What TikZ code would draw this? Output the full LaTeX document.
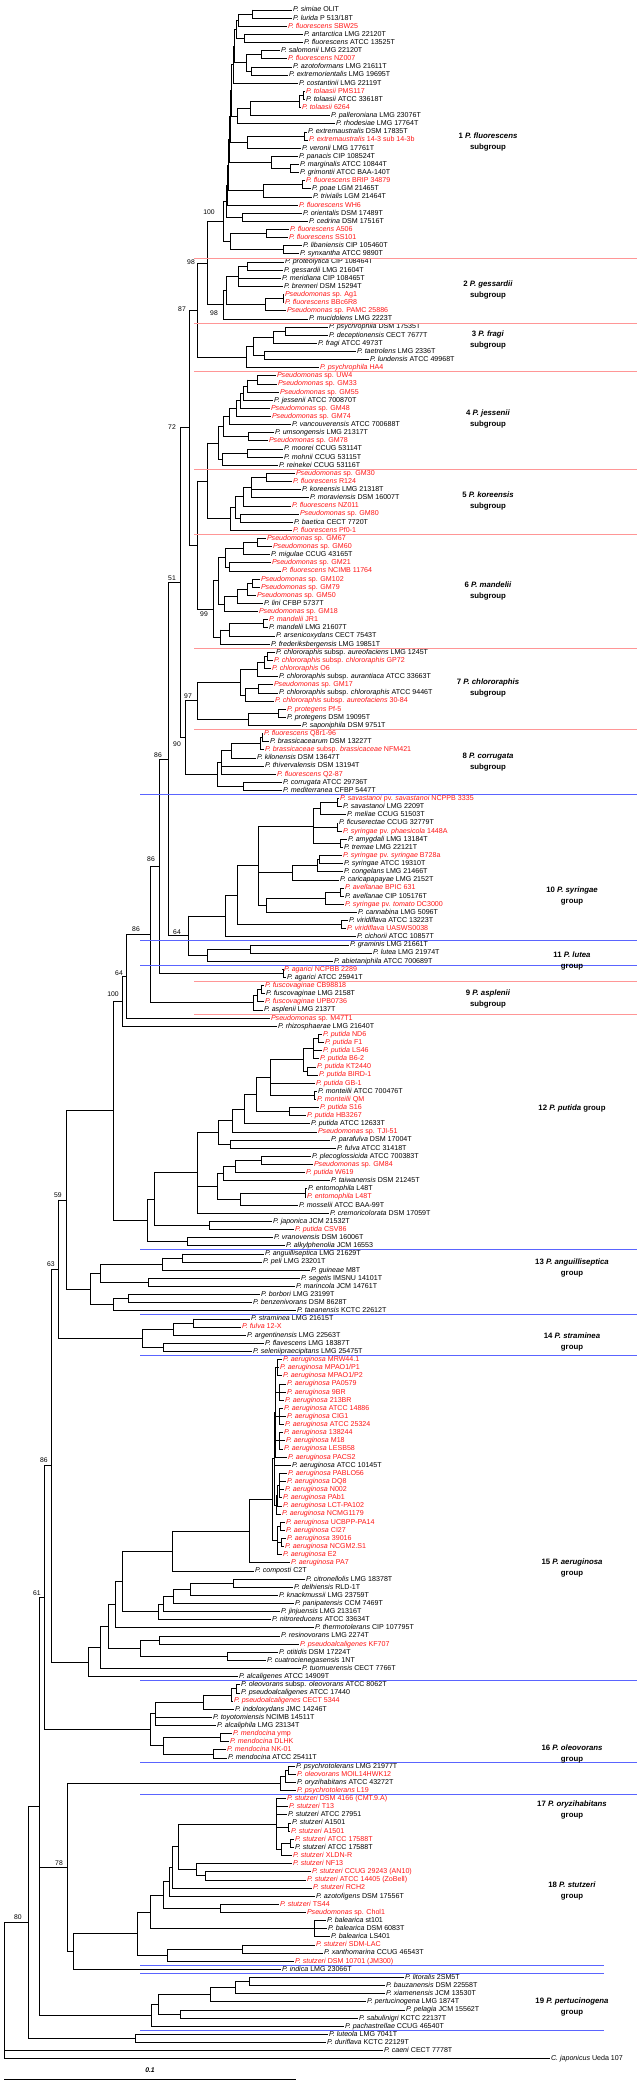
\documentclass[tikz,border=0pt]{standalone}
\usepackage{fontspec}
\setmainfont{Liberation Sans}
\usetikzlibrary{calc}
\definecolor{leafred}{RGB}{255,20,20}
\definecolor{sepred}{RGB}{255,150,150}
\definecolor{sepblue}{RGB}{90,100,255}
\newcommand\lfont{\fontsize{7.1}{8}\selectfont}
\newcommand\bsfont{\fontsize{6.8}{8}\selectfont}
\newcommand\gfont{\fontsize{7.8}{10.5}\selectfont\bfseries}
\newcommand\spn[1]{\textit{P. #1}}
\newcommand\psp{\textit{Pseudomonas} sp.}
\tikzset{
  br/.style={line width=0.8pt, line cap=rect},
  lf/.style={anchor=west, inner sep=0pt, xshift=1.3pt, font=\lfont, text height=5.2pt, text depth=1.4pt},
  bs/.style={font=\bsfont, inner sep=0pt},
  grp/.style={font=\gfont, align=center, inner sep=0pt},
  sepr/.style={draw=sepred, line width=0.7pt},
  sepb/.style={draw=sepblue, line width=0.9pt}
}
\newcommand\lk[3]{\coordinate (l#1) at ({#2-1.5},{10+(#1-1)*8.13}); \node[lf] at (l#1) {#3};}
\newcommand\lr[3]{\coordinate (l#1) at ({#2-1.5},{10+(#1-1)*8.13}); \node[lf,text=leafred] at (l#1) {#3};}
\newcommand\nd[3]{%
  \coordinate (tx) at (#2,0);
  \foreach \c [count=\i] in {#3}{\ifnum\i=1 \xdef\firstc{\c}\fi\xdef\lastc{\c}}%
  \coordinate (#1) at ($(tx|-\firstc)!.5!(tx|-\lastc)$);
  \draw[br] (tx|-\firstc) -- (tx|-\lastc);
  \foreach \c in {#3}{\draw[br] (tx|-\c) -- (\c);}
}
\newcommand\sepR[1]{\coordinate (sa#1) at (194,{10+(#1-0.5)*8.13}); \coordinate (sb#1) at (637,{10+(#1-0.5)*8.13}); \draw[sepr] (sa#1) -- (sb#1);}
\newcommand\sepB[2]{\coordinate (sa#1) at (140,{10+(#1-0.5)*8.13}); \coordinate (sb#1) at (#2,{10+(#1-0.5)*8.13}); \draw[sepb] (sa#1) -- (sb#1);}
\begin{document}
\begin{tikzpicture}[x=1pt,y=-1pt]
\path[use as bounding box] (0,0) rectangle (637,2084);
% ---------------- leaves
\lk{1}{293}{\spn{simiae} OLIT}
\lk{2}{293}{\spn{lurida} P 513/18T}
\lr{3}{288}{\spn{fluorescens} SBW25}
\lk{4}{304}{\spn{antarctica} LMG 22120T}
\lk{5}{304}{\spn{fluorescens} ATCC 13525T}
\lk{6}{281}{\spn{salomonii} LMG 22120T}
\lr{7}{288}{\spn{fluorescens} NZ007}
\lk{8}{293}{\spn{azotoformans} LMG 21611T}
\lk{9}{289}{\spn{extremorientalis} LMG 19695T}
\lk{10}{299}{\spn{costantinii} LMG 22119T}
\lr{11}{306}{\spn{tolaasii} PMS117}
\lk{12}{306}{\spn{tolaasii} ATCC 33618T}
\lr{13}{302}{\spn{tolaasii} 6264}
\lk{14}{331}{\spn{palleroniana} LMG 23076T}
\lk{15}{336}{\spn{rhodesiae} LMG 17764T}
\lk{16}{308}{\spn{extremaustralis} DSM 17835T}
\lr{17}{309}{\spn{extremaustralis} 14-3 sub 14-3b}
\lk{18}{302}{\spn{veronii} LMG 17761T}
\lk{19}{299}{\spn{panacis} CIP 108524T}
\lk{20}{300}{\spn{marginalis} ATCC 10844T}
\lk{21}{300}{\spn{grimontii} ATCC BAA-140T}
\lr{22}{306}{\spn{fluorescens} BRIP 34879}
\lk{23}{312}{\spn{poae} LGM 21465T}
\lk{24}{313}{\spn{trivialis} LGM 21464T}
\lr{25}{299}{\spn{fluorescens} WH6}
\lk{26}{303}{\spn{orientalis} DSM 17489T}
\lk{27}{309}{\spn{cedrina} DSM 17516T}
\lr{28}{290}{\spn{fluorescens} A506}
\lr{29}{289}{\spn{fluorescens} SS101}
\lk{30}{303}{\spn{libaniensis} CIP 105460T}
\lk{31}{300}{\spn{synxantha} ATCC 9890T}
\lk{32}{285}{\spn{proteolytica} CIP 108464T}
\lk{33}{284}{\spn{gessardii} LMG 21604T}
\lk{34}{282}{\spn{meridiana} CIP 108465T}
\lk{35}{284}{\spn{brenneri} DSM 15294T}
\lr{36}{285}{\psp{} Ag1}
\lr{37}{285}{\spn{fluorescens} BBc6R8}
\lr{38}{287}{\psp{} PAMC 25886}
\lk{39}{309}{\spn{mucidolens} LMG 2223T}
\lk{40}{329}{\spn{psychrophila} DSM 17535T}
\lk{41}{329}{\spn{deceptionensis} CECT 7677T}
\lk{42}{318}{\spn{fragi} ATCC 4973T}
\lk{43}{357}{\spn{taetrolens} LMG 2336T}
\lk{44}{370}{\spn{lundensis} ATCC 49968T}
\lr{45}{320}{\spn{psychrophila} HA4}
\lr{46}{277}{\psp{} UW4}
\lr{47}{278}{\psp{} GM33}
\lr{48}{280}{\psp{} GM55}
\lk{49}{274}{\spn{jessenii} ATCC 700870T}
\lr{50}{271}{\psp{} GM48}
\lr{51}{272}{\psp{} GM74}
\lk{52}{292}{\spn{vancouverensis} ATCC 700688T}
\lk{53}{275}{\spn{umsongensis} LMG 21317T}
\lr{54}{269}{\psp{} GM78}
\lk{55}{284}{\spn{moorei} CCUG 53114T}
\lk{56}{284}{\spn{mohnii} CCUG 53115T}
\lk{57}{279}{\spn{reinekei} CCUG 53116T}
\lr{58}{296}{\psp{} GM30}
\lr{59}{293}{\spn{fluorescens} R124}
\lk{60}{302}{\spn{koreensis} LMG 21318T}
\lk{61}{310}{\spn{moraviensis} DSM 16007T}
\lr{62}{292}{\spn{fluorescens} NZ011}
\lr{63}{300}{\psp{} GM80}
\lk{64}{294}{\spn{baetica} CECT 7720T}
\lr{65}{293}{\spn{fluorescens} Pf0-1}
\lr{66}{267}{\psp{} GM67}
\lr{67}{273}{\psp{} GM60}
\lk{68}{271}{\spn{migulae} CCUG 43165T}
\lr{69}{272}{\psp{} GM21}
\lr{70}{282}{\spn{fluorescens} NCIMB 11764}
\lr{71}{261}{\psp{} GM102}
\lr{72}{261}{\psp{} GM79}
\lr{73}{257}{\psp{} GM50}
\lk{74}{264}{\spn{lini} CFBP 5737T}
\lr{75}{259}{\psp{} GM18}
\lr{76}{269}{\spn{mandelii} JR1}
\lk{77}{269}{\spn{mandelii} LMG 21607T}
\lk{78}{276}{\spn{arsenicoxydans} CECT 7543T}
\lk{79}{271}{\spn{frederiksbergensis} LMG 19851T}
\lk{80}{276}{\spn{chlororaphis} subsp. \textit{aureofaciens} LMG 1245T}
\lr{81}{274}{\spn{chlororaphis} subsp. \textit{chlororaphis} GP72}
\lr{82}{272}{\spn{chlororaphis} O6}
\lk{83}{279}{\spn{chlororaphis} subsp. \textit{aurantiaca} ATCC 33663T}
\lr{84}{274}{\psp{} GM17}
\lk{85}{279}{\spn{chlororaphis} subsp. \textit{chlororaphis} ATCC 9446T}
\lr{86}{275}{\spn{chlororaphis} subsp. \textit{aureofaciens} 30-84}
\lr{87}{287}{\spn{protegens} Pf-5}
\lk{88}{287}{\spn{protegens} DSM 19095T}
\lk{89}{302}{\spn{saponiphila} DSM 9751T}
\lr{90}{264}{\spn{fluorescens} Q8r1-96}
\lk{91}{270}{\spn{brassicacearum} DSM 13227T}
\lr{92}{265}{\spn{brassicaceae} subsp. \textit{brassicaceae} NFM421}
\lk{93}{257}{\spn{kilonensis} DSM 13647T}
\lk{94}{265}{\spn{thivervalensis} DSM 13194T}
\lr{95}{277}{\spn{fluorescens} Q2-87}
\lk{96}{283}{\spn{corrugata} ATCC 29736T}
\lk{97}{283}{\spn{mediterranea} CFBP 5447T}
\lr{98}{340}{\spn{savastanoi} pv. \textit{savastanoi} NCPPB 3335}
\lk{99}{343}{\spn{savastanoi} LMG 2209T}
\lk{100}{347}{\spn{meliae} CCUG 51503T}
\lk{101}{339}{\spn{ficuserectae} CCUG 32779T}
\lr{102}{343}{\spn{syringae} pv. \textit{phaesicola} 1448A}
\lk{103}{348}{\spn{amygdali} LMG 13184T}
\lk{104}{344}{\spn{tremae} LMG 22121T}
\lr{105}{343}{\spn{syringae} pv. \textit{syringae} B728a}
\lk{106}{344}{\spn{syringae} ATCC 19310T}
\lk{107}{344}{\spn{congelans} LMG 21466T}
\lk{108}{340}{\spn{caricapapayae} LMG 2152T}
\lr{109}{345}{\spn{avellanae} BPIC 631}
\lk{110}{345}{\spn{avellanae} CIP 105176T}
\lr{111}{345}{\spn{syringae} pv. \textit{tomato} DC3000}
\lk{112}{358}{\spn{cannabina} LMG 5096T}
\lk{113}{349}{\spn{viridiflava} ATCC 13223T}
\lr{114}{347}{\spn{viridiflava} UASWS0038}
\lk{115}{357}{\spn{cichorii} ATCC 10857T}
\lk{116}{350}{\spn{graminis} LMG 21661T}
\lk{117}{373}{\spn{lutea} LMG 21974T}
\lk{118}{334}{\spn{abietaniphila} ATCC 700689T}
\lr{119}{284}{\spn{agarici} NCPBB 2289}
\lk{120}{287}{\spn{agarici} ATCC 25941T}
\lr{121}{265}{\spn{fuscovaginae} CB98818}
\lk{122}{266}{\spn{fuscovaginae} LMG 2158T}
\lr{123}{265}{\spn{fuscovaginae} UPB0736}
\lk{124}{264}{\spn{asplenii} LMG 2137T}
\lr{125}{271}{\psp{} M47T1}
\lk{126}{278}{\spn{rhizosphaerae} LMG 21640T}
\lr{127}{323}{\spn{putida} ND6}
\lr{128}{325}{\spn{putida} F1}
\lr{129}{323}{\spn{putida} LS46}
\lr{130}{320}{\spn{putida} B6-2}
\lr{131}{317}{\spn{putida} KT2440}
\lr{132}{319}{\spn{putida} BIRD-1}
\lr{133}{316}{\spn{putida} GB-1}
\lk{134}{318}{\spn{monteilii} ATCC 700476T}
\lr{135}{317}{\spn{monteilii} QM}
\lr{136}{320}{\spn{putida} S16}
\lr{137}{307}{\spn{putida} HB3267}
\lk{138}{311}{\spn{putida} ATCC 12633T}
\lr{139}{318}{\psp{} TJI-51}
\lk{140}{331}{\spn{parafulva} DSM 17004T}
\lk{141}{337}{\spn{fulva} ATCC 31418T}
\lk{142}{312}{\spn{plecoglossicida} ATCC 700383T}
\lr{143}{314}{\psp{} GM84}
\lr{144}{306}{\spn{putida} W619}
\lk{145}{331}{\spn{taiwanensis} DSM 21245T}
\lk{146}{308}{\spn{entomophila} L48T}
\lr{147}{307}{\spn{entomophila} L48T}
\lk{148}{299}{\spn{mosselii} ATCC BAA-99T}
\lk{149}{330}{\spn{cremoricolorata} DSM 17059T}
\lk{150}{273}{\spn{japonica} JCM 21532T}
\lr{151}{295}{\spn{putida} CSV86}
\lk{152}{274}{\spn{vranovensis} DSM 16006T}
\lk{153}{286}{\spn{alkylphenolia} JCM 16553}
\lk{154}{265}{\spn{anguilliseptica} LMG 21629T}
\lk{155}{263}{\spn{peli} LMG 23201T}
\lk{156}{311}{\spn{guineae} M8T}
\lk{157}{301}{\spn{segetis} IMSNU 14101T}
\lk{158}{296}{\spn{marincola} JCM 14761T}
\lk{159}{261}{\spn{borbori} LMG 23199T}
\lk{160}{253}{\spn{benzenivorans} DSM 8628T}
\lk{161}{297}{\spn{taeanensis} KCTC 22612T}
\lk{162}{251}{\spn{straminea} LMG 21615T}
\lr{163}{242}{\spn{fulva} 12-X}
\lk{164}{247}{\spn{argentinensis} LMG 22563T}
\lk{165}{265}{\spn{flavescens} LMG 18387T}
\lk{166}{253}{\spn{seleniipraecipitans} LMG 25475T}
\lr{167}{283}{\spn{aeruginosa} MRW44.1}
\lr{168}{280}{\spn{aeruginosa} MPAO1/P1}
\lr{169}{283}{\spn{aeruginosa} MPAO1/P2}
\lr{170}{287}{\spn{aeruginosa} PA0579}
\lr{171}{287}{\spn{aeruginosa} 9BR}
\lr{172}{285}{\spn{aeruginosa} 213BR}
\lr{173}{284}{\spn{aeruginosa} ATCC 14886}
\lr{174}{287}{\spn{aeruginosa} CIG1}
\lr{175}{285}{\spn{aeruginosa} ATCC 25324}
\lr{176}{284}{\spn{aeruginosa} 138244}
\lr{177}{286}{\spn{aeruginosa} M18}
\lr{178}{284}{\spn{aeruginosa} LESB58}
\lr{179}{288}{\spn{aeruginosa} PACS2}
\lk{180}{292}{\spn{aeruginosa} ATCC 10145T}
\lr{181}{288}{\spn{aeruginosa} PABLO56}
\lr{182}{287}{\spn{aeruginosa} DQ8}
\lr{183}{285}{\spn{aeruginosa} N002}
\lr{184}{283}{\spn{aeruginosa} PAb1}
\lr{185}{283}{\spn{aeruginosa} LCT-PA102}
\lr{186}{282}{\spn{aeruginosa} NCMG1179}
\lr{187}{286}{\spn{aeruginosa} UCBPP-PA14}
\lr{188}{286}{\spn{aeruginosa} CI27}
\lr{189}{287}{\spn{aeruginosa} 39016}
\lr{190}{285}{\spn{aeruginosa} NCGM2.S1}
\lr{191}{283}{\spn{aeruginosa} E2}
\lr{192}{291}{\spn{aeruginosa} PA7}
\lk{193}{255}{\spn{composti} C2T}
\lk{194}{306}{\spn{citronellolis} LMG 18378T}
\lk{195}{294}{\spn{delhiensis} RLD-1T}
\lk{196}{279}{\spn{knackmussii} LMG 23759T}
\lk{197}{295}{\spn{panipatensis} CCM 7469T}
\lk{198}{281}{\spn{jinjuensis} LMG 21316T}
\lk{199}{272}{\spn{nitroreducens} ATCC 33634T}
\lk{200}{315}{\spn{thermotolerans} CIP 107795T}
\lk{201}{281}{\spn{resinovorans} LMG 2274T}
\lr{202}{300}{\spn{pseudoalcaligenes} KF707}
\lk{203}{279}{\spn{otitidis} DSM 17224T}
\lk{204}{267}{\spn{cuatrocienegasensis} 1NT}
\lk{205}{302}{\spn{tuomuerensis} CECT 7766T}
\lk{206}{239}{\spn{alcaligenes} ATCC 14909T}
\lk{207}{241}{\spn{oleovorans} subsp. \textit{oleovorans} ATCC 8062T}
\lk{208}{241}{\spn{pseudoalcaligenes} ATCC 17440}
\lr{209}{234}{\spn{pseudoalcaligenes} CECT 5344}
\lk{210}{235}{\spn{indoloxydans} JMC 14246T}
\lk{211}{213}{\spn{toyotomiensis} NCIMB 14511T}
\lk{212}{217}{\spn{alcaliphila} LMG 23134T}
\lr{213}{233}{\spn{mendocina} ymp}
\lr{214}{230}{\spn{mendocina} DLHK}
\lr{215}{227}{\spn{mendocina} NK-01}
\lk{216}{228}{\spn{mendocina} ATCC 25411T}
\lk{217}{296}{\spn{psychrotolerans} LMG 21977T}
\lr{218}{297}{\spn{oleovorans} MOIL14HWK12}
\lk{219}{297}{\spn{oryzihabitans} ATCC 43272T}
\lr{220}{297}{\spn{psychrotolerans} L19}
\lr{221}{287}{\spn{stutzeri} DSM 4166 (CMT.9.A)}
\lr{222}{289}{\spn{stutzeri} T13}
\lk{223}{288}{\spn{stutzeri} ATCC 27951}
\lk{224}{292}{\spn{stutzeri} A1501}
\lr{225}{291}{\spn{stutzeri} A1501}
\lr{226}{295}{\spn{stutzeri} ATCC 17588T}
\lk{227}{295}{\spn{stutzeri} ATCC 17588T}
\lr{228}{293}{\spn{stutzeri} XLDN-R}
\lr{229}{293}{\spn{stutzeri} NF13}
\lr{230}{312}{\spn{stutzeri} CCUG 29243 (AN10)}
\lr{231}{307}{\spn{stutzeri} ATCC 14405 (ZoBell)}
\lr{232}{313}{\spn{stutzeri} RCH2}
\lk{233}{316}{\spn{azotofigens} DSM 17556T}
\lr{234}{280}{\spn{stutzeri} TS44}
\lr{235}{307}{\psp{} Chol1}
\lk{236}{327}{\spn{balearica} st101}
\lk{237}{328}{\spn{balearica} DSM 6083T}
\lk{238}{331}{\spn{balearica} LS401}
\lr{239}{316}{\spn{stutzeri} SDM-LAC}
\lk{240}{324}{\spn{xanthomarina} CCUG 46543T}
\lr{241}{295}{\spn{stutzeri} DSM 10701 (JM300)}
\lk{242}{282}{\spn{indica} LMG 23066T}
\lk{243}{405}{\spn{litoralis} 2SM5T}
\lk{244}{386}{\spn{bauzanensis} DSM 22558T}
\lk{245}{386}{\spn{xiamenensis} JCM 13530T}
\lk{246}{367}{\spn{pertucinogena} LMG 1874T}
\lk{247}{406}{\spn{pelagia} JCM 15562T}
\lk{248}{359}{\spn{sabulinigri} KCTC 22137T}
\lk{249}{345}{\spn{pachastrellae} CCUG 46540T}
\lk{250}{329}{\spn{luteola} LMG 7041T}
\lk{251}{327}{\spn{duriflava} KCTC 22129T}
\lk{252}{384}{\spn{caeni} CECT 7778T}
\lk{253}{551}{\textit{C. japonicus} Ueda 107}
% ---------------- group 1
\nd{a1}{252}{l1,l2}
\nd{a2}{238}{a1,l3}
\nd{a3}{244}{l4,l5}
\nd{a4}{261}{l6,l7}
\nd{a5}{251}{l8,l9}
\nd{a6}{246}{a4,a5}
\nd{a7}{236}{a2,a3}
\nd{a8}{234}{a7,a6}
\nd{a9}{233}{a8,l10}
\nd{b1}{303}{l11,l12}
\nd{b2}{299}{b1,l13}
\nd{b3}{250}{b2,l14}
\nd{b4}{237}{b3,l15}
\nd{b5}{304}{l16,l17}
\nd{b6}{247}{b5,l18}
\nd{b7}{290}{l20,l21}
\nd{b8}{271}{l19,b7}
\nd{b9}{302}{l22,l23}
\nd{b10}{263}{b9,l24}
\nd{b11}{242}{l26,l27}
\nd{c1}{231}{a9,b4}
\nd{c2}{230}{c1,b6}
\nd{c3}{229}{c2,b8}
\nd{c4}{228}{c3,b10}
\nd{c5}{227}{c4,l25}
\nd{c6}{226}{c5,b11}
\nd{b12}{266}{l28,l29}
\nd{b13}{283}{l30,l31}
\nd{b14}{230}{b12,b13}
\nd{G1}{223}{c6,b14}
% group 2
\nd{d1}{247}{l32,l33}
\nd{d2}{238}{d1,l34,l35}
\nd{d3}{283}{l36,l37}
\nd{d4}{265}{d3,l38}
\nd{d5}{226}{d2,d4}
\nd{G2}{223}{d5,l39}
\nd{G12}{207}{G1,G2}
% group 3
\nd{e1}{285}{l40,l41}
\nd{e2}{273}{e1,l42}
\nd{e3}{264}{l43,l44}
\nd{e4}{253}{e2,e3}
\nd{G3}{246}{e4,l45}
\nd{G123}{197}{G12,G3}
% group 4
\nd{f1}{257}{l46,l47}
\nd{f2}{247}{f1,l48}
\nd{f3}{243}{f2,l49}
\nd{f4}{240}{f3,l50}
\nd{f5}{236}{f4,l51}
\nd{f6}{229}{f5,l52}
\nd{f7}{248}{l53,l54}
\nd{f8}{223}{f6,f7}
\nd{f9}{247}{l55,l56}
\nd{f10}{222}{f9,l57}
\nd{G4}{218}{f8,f10}
% group 5
\nd{g1}{266}{l58,l59}
\nd{g2}{251}{g1,l60,l61}
\nd{g3}{243}{g2,l62}
\nd{g4}{240}{l63,l64}
\nd{g5}{235}{g3,g4}
\nd{G5}{230}{g5,l65}
\nd{G45}{207}{G4,G5}
% group 6
\nd{h1}{257}{l66,l67}
\nd{h2}{243}{h1,l68}
\nd{h3}{229}{l69,l70}
\nd{h4}{225}{h2,h3}
\nd{h5}{252}{l71,l72}
\nd{h6}{247}{h5,l73}
\nd{h7}{237}{h6,l74}
\nd{h8}{224}{h7,l75}
\nd{h9}{218}{h4,h8}
\nd{h10}{263}{l76,l77}
\nd{h11}{229}{h10,l78}
\nd{h12}{220}{h11,l79}
\nd{G6}{213}{h9,h12}
\nd{G456}{197}{G45,G6}
\nd{NA}{189}{G123,G456}
% group 7
\nd{i1}{267}{l80,l81}
\nd{i2}{264}{i1,l82}
\nd{i3}{257}{i2,l83}
\nd{i4}{258}{l84,l85}
\nd{i5}{245}{i4,l86}
\nd{i6}{240}{i3,i5}
\nd{i7}{278}{l87,l88}
\nd{i8}{248}{i7,l89}
\nd{G7}{197}{i6,i8}
% group 8
\nd{j1}{262}{l90,l91}
\nd{j2}{260}{j1,l92}
\nd{j3}{231}{j2,l93}
\nd{j4}{221}{j3,l94,l95}
\nd{j5}{243}{l96,l97}
\nd{G8}{217}{j4,j5}
\nd{G78}{185}{G7,G8}
\nd{NB}{180}{NA,G78}
% group 10
\nd{k1}{337}{l98,l99}
\nd{k2}{320}{k1,l100}
\nd{k3}{337}{l101,l102}
\nd{k4}{340}{l103,l104}
\nd{k5}{313}{k2,k3,k4}
\nd{k6}{319}{l105,l106}
\nd{k7}{317}{k6,l107}
\nd{k8}{292}{k7,l108}
\nd{k9}{340}{l109,l110}
\nd{k10}{325}{k9,l111}
\nd{k11}{266}{k10,l112}
\nd{k12}{258}{k5,k8,k11}
\nd{k13}{341}{l113,l114}
\nd{k14}{237}{k12,k13}
\nd{G10}{225}{k14,l115}
% group 11
\nd{m1}{250}{l116,l117}
\nd{G11}{207}{m1,l118}
\nd{XX}{188}{G10,G11}
\nd{NC}{168}{NB,XX}
\nd{agar}{283}{l119,l120}
\nd{ND}{159}{NC,agar}
% group 9
\nd{n1}{261}{l121,l122}
\nd{n2}{257}{n1,l123}
\nd{G9}{253}{n2,l124}
\nd{NE}{150}{ND,G9}
\nd{NF}{126}{NE,l125}
\nd{NG}{122}{NF,l126}
% group 12
\nd{p1}{318}{l127,l128}
\nd{p2}{313}{p1,l129,l130}
\nd{p3}{307}{l131,l132}
\nd{p4}{303}{p2,p3}
\nd{p5}{314}{l134,l135}
\nd{p6}{270}{p4,l133,p5}
\nd{p7}{289}{l136,l137}
\nd{p8}{256}{p6,p7}
\nd{p9}{244}{p8,l138}
\nd{p10}{232}{p9,l139}
\nd{p11}{230}{l140,l141}
\nd{p12}{218}{p10,p11}
\nd{p13}{261}{l142,l143}
\nd{p14}{235}{p13,l144}
\nd{p15}{223}{p14,l145}
\nd{p16}{305}{l146,l147}
\nd{p17}{240}{p16,l148}
\nd{p18}{217}{p15,p17}
\nd{p19}{197}{p12,p18,l149}
\nd{p20}{209}{l150,l151}
\nd{p21}{154}{p19,p20}
\nd{p22}{187}{l152,l153}
\nd{G12p}{147}{p21,p22}
\nd{NH}{113}{NG,G12p}
% group 13
\nd{q1}{182}{l154,l155}
\nd{q2}{162}{q1,l156}
\nd{q3}{148}{l157,l158}
\nd{q4}{100}{q2,q3}
\nd{q5}{128}{l159,l160}
\nd{q6}{113}{q5,l161}
\nd{G13}{90}{q4,q6}
% group 14
\nd{r1}{193}{l162,l163}
\nd{r2}{173}{r1,l164}
\nd{r3}{163}{l165,l166}
\nd{G14}{142}{r2,r3}
% group 15
\nd{s1}{277}{l167,l168,l169}
\nd{s2}{279}{l170,l171,l172}
\nd{s3}{279}{l173,l174,l175}
\nd{s4}{279}{l176,l177,l178}
\nd{s5}{275}{s1,s2,s3,s4,l179}
\nd{s6}{279}{l181,l182,l183,l184}
\nd{s7}{277}{s6,l185}
\nd{s8}{276}{s7,l186}
\nd{s9}{280}{l187,l188}
\nd{s10}{281}{l189,l190}
\nd{s11}{277}{s9,s10,l191}
\nd{s12}{274}{s5,l180,s8}
\nd{KK}{272}{s12,s11}
\nd{LL}{249}{KK,l192}
\nd{MM}{172}{LL,l193}
\nd{t1}{233}{l194,l195}
\nd{t2}{190}{t1,l196}
\nd{t3}{173}{t2,l197}
\nd{t4}{163}{t3,l198}
\nd{t5}{158}{t4,l199}
\nd{Nn}{122}{MM,t5}
\nd{t6}{115}{Nn,l200}
\nd{t7}{159}{l201,l202}
\nd{t8}{227}{l203,l204}
\nd{t9}{140}{t7,t8}
\nd{PP}{108}{t6,t9}
\nd{QQ}{100}{PP,l205}
\nd{RR}{88}{QQ,l206}
% group 16
\nd{u1}{236}{l207,l208}
\nd{u2}{231}{u1,l209}
\nd{u3}{203}{u2,l210}
\nd{u4}{155}{u3,l211,l212}
\nd{u5}{220}{l213,l214}
\nd{u6}{213}{l215,l216}
\nd{u7}{163}{u5,u6}
\nd{G16}{150}{u4,u7}
% group 17
\nd{v1}{288}{l217,l218}
\nd{v2}{285}{v1,l219}
\nd{G17}{280}{v2,l220}
% group 18
\nd{w1}{288}{l224,l225}
\nd{w2}{290}{l226,l227}
\nd{w3}{281}{w2,l228}
\nd{S1}{276}{l221,l222,l223,w1,w3}
\nd{w4}{205}{l230,l231}
\nd{w5}{196}{l229,w4}
\nd{w6}{178}{S1,w5}
\nd{w7}{172}{w6,l232}
\nd{w8}{169}{w7,l233}
\nd{w9}{220}{l234,l235}
\nd{w10}{163}{w8,w9}
\nd{w11}{314}{l236,l237,l238}
\nd{w12}{150}{w10,w11}
\nd{w13}{242}{l239,l240}
\nd{w14}{167}{w13,l241}
\nd{w15}{137}{w12,w14}
\nd{G18}{73}{w15,l242}
% group 19
\nd{y1}{249}{l243,l244}
\nd{y2}{235}{y1,l245}
\nd{y3}{210}{y2,l246}
\nd{y4}{180}{l247,l248}
\nd{y5}{158}{y3,y4}
\nd{G19}{151}{y5,l249}
\nd{lut}{135}{l250,l251}
% backbone
\nd{T1}{66}{NH,G13}
\nd{T2}{58}{T1,G14}
\nd{T3}{51}{T2,RR}
\nd{T4}{44}{T3,G16}
\nd{N67}{67}{G17,G18}
\nd{N39}{39}{T4,N67,G19}
\nd{N80}{28}{N39,lut}
\nd{root}{4}{N80,l252,l253}
% ---------------- separators
\sepR{31}\sepR{39}\sepR{45}\sepR{57}\sepR{65}\sepR{79}\sepR{89}\sepR{120}\sepR{124}
\sepB{97}{637}\sepB{115}{637}\sepB{118}{637}\sepB{153}{637}\sepB{161}{637}
\sepB{166}{637}\sepB{206}{637}\sepB{216}{637}\sepB{220}{637}
\sepB{241}{604}\sepB{242}{604}\sepB{249}{604}
% ---------------- bootstrap values
\node[bs] (bs1) at (209,212) {100};
\node[bs] (bs2) at (191,262) {98};
\node[bs] (bs3) at (182,309) {87};
\node[bs] (bs4) at (214,313) {98};
\node[bs] (bs5) at (172,427) {72};
\node[bs] (bs6) at (172,578) {51};
\node[bs] (bs7) at (204,614) {99};
\node[bs] (bs8) at (188,696) {97};
\node[bs] (bs9) at (177,744) {90};
\node[bs] (bs10) at (158,755) {86};
\node[bs] (bs11) at (151,859) {86};
\node[bs] (bs12) at (136,929) {86};
\node[bs] (bs13) at (177,932) {64};
\node[bs] (bs14) at (119,973) {64};
\node[bs] (bs15) at (113,994) {100};
\node[bs] (bs16) at (58,1195) {59};
\node[bs] (bs17) at (51,1264) {63};
\node[bs] (bs18) at (44,1460) {86};
\node[bs] (bs19) at (37,1593) {61};
\node[bs] (bs20) at (59,1863) {78};
\node[bs] (bs21) at (18,1917) {80};
% ---------------- group labels
\node[grp] (g1) at (488,142) {1 \textit{P. fluorescens}\\subgroup};
\node[grp] (g2) at (488,290) {2 \textit{P. gessardii}\\subgroup};
\node[grp] (g3) at (488,340) {3 \textit{P. fragi}\\subgroup};
\node[grp] (g4) at (488,419) {4 \textit{P. jessenii}\\subgroup};
\node[grp] (g5) at (488,501) {5 \textit{P. koreensis}\\subgroup};
\node[grp] (g6) at (488,591) {6 \textit{P. mandelii}\\subgroup};
\node[grp] (g7) at (488,688) {7 \textit{P. chlororaphis}\\subgroup};
\node[grp] (g8) at (488,762) {8 \textit{P. corrugata}\\subgroup};
\node[grp] (g9) at (488,999) {9 \textit{P. asplenii}\\subgroup};
\node[grp] (g10) at (572,896) {10 \textit{P. syringae}\\group};
\node[grp] (g11) at (572,961) {11 \textit{P. lutea}\\group};
\node[grp] (g12) at (572,1108) {12 \textit{P. putida} group};
\node[grp] (g13) at (572,1268) {13 \textit{P. anguilliseptica}\\group};
\node[grp] (g14) at (572,1342) {14 \textit{P. straminea}\\group};
\node[grp] (g15) at (572,1568) {15 \textit{P. aeruginosa}\\group};
\node[grp] (g16) at (572,1754) {16 \textit{P. oleovorans}\\group};
\node[grp] (g17) at (572,1810) {17 \textit{P. oryzihabitans}\\group};
\node[grp] (g18) at (572,1891) {18 \textit{P. stutzeri}\\group};
\node[grp] (g19) at (572,2007) {19 \textit{P. pertucinogena}\\group};
% ---------------- scale bar
\coordinate (sbl) at (4,2079);
\coordinate (sbr) at (296,2079);
\draw[line width=0.8pt] (sbl) -- (sbr);
\node[font=\bsfont\bfseries\itshape, inner sep=0pt] (sbt) at (150,2070) {0.1};
\end{tikzpicture}
\end{document}
